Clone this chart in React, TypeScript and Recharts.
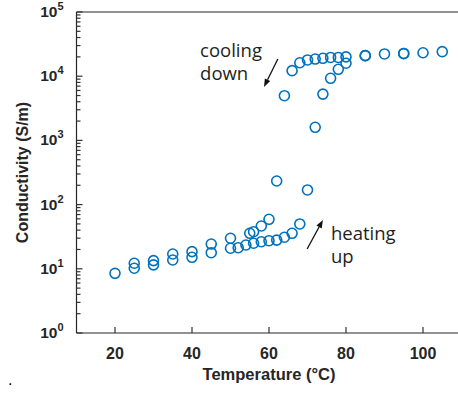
import React from 'react';
import {
  ScatterChart,
  Scatter,
  XAxis,
  YAxis,
  ReferenceLine,
  ReferenceDot,
} from 'recharts';

// heating branch (°C, S/m)
const heatTemp = [20, 25, 30, 35, 40, 45, 50, 52, 54, 56, 58, 60, 62, 64, 66, 68, 70, 72, 74, 76, 78, 80, 85, 90, 95, 100, 105];
const heatCond = [8.5, 10.2, 11.5, 13.7, 15.1, 17.8, 20.9, 21.3, 23.5, 25, 26.4, 27.4, 28, 31, 35.7, 50, 169, 1600, 5260, 9270, 12800, 15900, 20900, 22200, 22500, 23200, 24100];

// cooling branch
const coolTemp = [95, 85, 80, 78, 76, 74, 72, 70, 68, 66, 64, 62, 60, 58, 56, 55, 50, 45, 40, 35, 30, 25];
const coolCond = [22600, 20900, 20000, 19600, 19600, 19000, 18500, 17900, 16200, 12200, 4970, 233, 59, 46.4, 37.8, 35.7, 29.9, 24.3, 18.5, 17, 13.4, 12.2];

const xTicks = [20, 40, 60, 80, 100];
const yDecades = [1, 10, 100, 1000, 10000, 100000];
const yMinorSteps = [2, 3, 4, 5, 6, 7, 8, 9];

const heating = heatTemp.map((x, i) => ({ x, y: heatCond[i] }));
const cooling = coolTemp.map((x, i) => ({ x, y: coolCond[i] }));

const yTicks = [
  ...yDecades,
  ...yDecades.slice(0, -1).flatMap((d) => yMinorSteps.map((m) => m * d)),
].sort((a, b) => a - b);

const BLUE = '#0072bd';
const AXIS = '#262626';
const TICK_FONT = '"Liberation Sans", Arial, sans-serif';
const NOTE_FONT = '"Open Sans", sans-serif';
const TICK_MARGIN = 8;

const Ring = (props: any) => (
  <circle cx={props.cx} cy={props.cy} r={5} fill="none" stroke={BLUE} strokeWidth={1.6} />
);

// ticks point inwards, minor ones shorter
function YTick(props: any) {
  const x = Number(props.x);
  const y = Number(props.y);
  const ax = x + TICK_MARGIN;
  const v = Number(props.payload.value);
  const exp = Math.round(Math.log10(v));
  const major = Math.abs(Math.log10(v) - exp) < 1e-6;
  return (
    <g>
      <path d={`M${ax},${y}h${major ? 6 : 4}`} stroke="#333" strokeWidth={1.2} fill="none" />
      {major && (
        <text
          x={ax - 13}
          y={y + 5}
          textAnchor="end"
          fontFamily={TICK_FONT}
          fontWeight="bold"
          fontSize={15.5}
          fill={AXIS}
        >
          10
          <tspan dy={-7} fontSize={11}>{exp}</tspan>
        </text>
      )}
    </g>
  );
}

function XTick(props: any) {
  const x = Number(props.x);
  const ay = Number(props.y) - TICK_MARGIN;
  return (
    <g>
      <path d={`M${x},${ay}v-6`} stroke="#333" strokeWidth={1.2} fill="none" />
      <text
        x={x}
        y={ay + 26}
        textAnchor="middle"
        fontFamily={TICK_FONT}
        fontWeight="bold"
        fontSize={16}
        fill={AXIS}
      >
        {props.payload.value}
      </text>
    </g>
  );
}

const Arrow = (props: any) => {
  const { x1, y1, x2, y2 } = props;
  const ang = Math.atan2(y2 - y1, x2 - x1);
  const len = 8;
  const half = 3;
  const bx = x2 - len * Math.cos(ang);
  const by = y2 - len * Math.sin(ang);
  const px = -Math.sin(ang) * half;
  const py = Math.cos(ang) * half;
  return (
    <g>
      <line x1={x1} y1={y1} x2={bx} y2={by} stroke="#111" strokeWidth={1.3} />
      <polygon points={`${x2},${y2} ${bx + px},${by + py} ${bx - px},${by - py}`} fill="#111" />
    </g>
  );
};

const note = (lines: string[]) => (props: any) => (
  <text x={props.cx} y={props.cy} fontFamily={NOTE_FONT} fontSize={18.5} fill="#231f20">
    {lines.map((l, i) => (
      <tspan key={l} x={props.cx} dy={i === 0 ? 0 : 23}>
        {l}
      </tspan>
    ))}
  </text>
);

export default function App() {
  return (
    <div style={{ position: 'absolute', left: 0, top: 0, width: 458, height: 394, overflow: 'hidden', background: '#fff' }}>
      <ScatterChart width={470} height={394} margin={{ top: 12, right: 8.5, bottom: 14, left: 8.5 }}>
        <XAxis
          type="number"
          dataKey="x"
          domain={[10, 110]}
          ticks={xTicks}
          tickSize={0}
          tickMargin={TICK_MARGIN}
          tick={XTick}
          tickLine={false}
          axisLine={{ stroke: AXIS, strokeWidth: 1.2 }}
          height={47}
          label={{
            value: 'Temperature (°C)',
            position: 'insideBottom',
            offset: 0,
            fontFamily: TICK_FONT,
            fontWeight: 'bold',
            fontSize: 16.5,
            fill: AXIS,
          }}
        />
        <YAxis
          type="number"
          dataKey="y"
          scale="log"
          domain={[1, 100000]}
          allowDataOverflow
          ticks={yTicks}
          interval={0}
          tickSize={0}
          tickMargin={TICK_MARGIN}
          tick={YTick}
          tickLine={false}
          axisLine={{ stroke: AXIS, strokeWidth: 1.2 }}
          width={68}
          label={{
            value: 'Conductivity (S/m)',
            angle: -90,
            position: 'insideLeft',
            offset: 13.5,
            fontFamily: TICK_FONT,
            fontWeight: 'bold',
            fontSize: 16,
            fill: AXIS,
            style: { textAnchor: 'middle' },
          }}
        />
        <ReferenceLine y={100000} stroke={AXIS} strokeWidth={1.2} ifOverflow="visible" />
        <ReferenceLine x={110} stroke={AXIS} strokeWidth={1.2} ifOverflow="visible" />
        <Scatter data={heating} shape={Ring} isAnimationActive={false} />
        <Scatter data={cooling} shape={Ring} isAnimationActive={false} />
        <ReferenceLine
          segment={[{ x: 62.3, y: 18500 }, { x: 58.7, y: 6800 }]}
          shape={Arrow}
          ifOverflow="visible"
        />
        <ReferenceLine
          segment={[{ x: 69.9, y: 20.3 }, { x: 74.0, y: 57.6 }]}
          shape={Arrow}
          ifOverflow="visible"
        />
        <ReferenceDot x={42.1} y={19900} r={0} shape={note(['cooling', 'down'])} ifOverflow="visible" />
        <ReferenceDot x={76.1} y={28.1} r={0} shape={note(['heating', 'up'])} ifOverflow="visible" />
      </ScatterChart>
      <div style={{ position: 'absolute', left: 8, top: 372, fontFamily: TICK_FONT, fontSize: 16, lineHeight: '16px', color: '#000' }}>
        .
      </div>
    </div>
  );
}
